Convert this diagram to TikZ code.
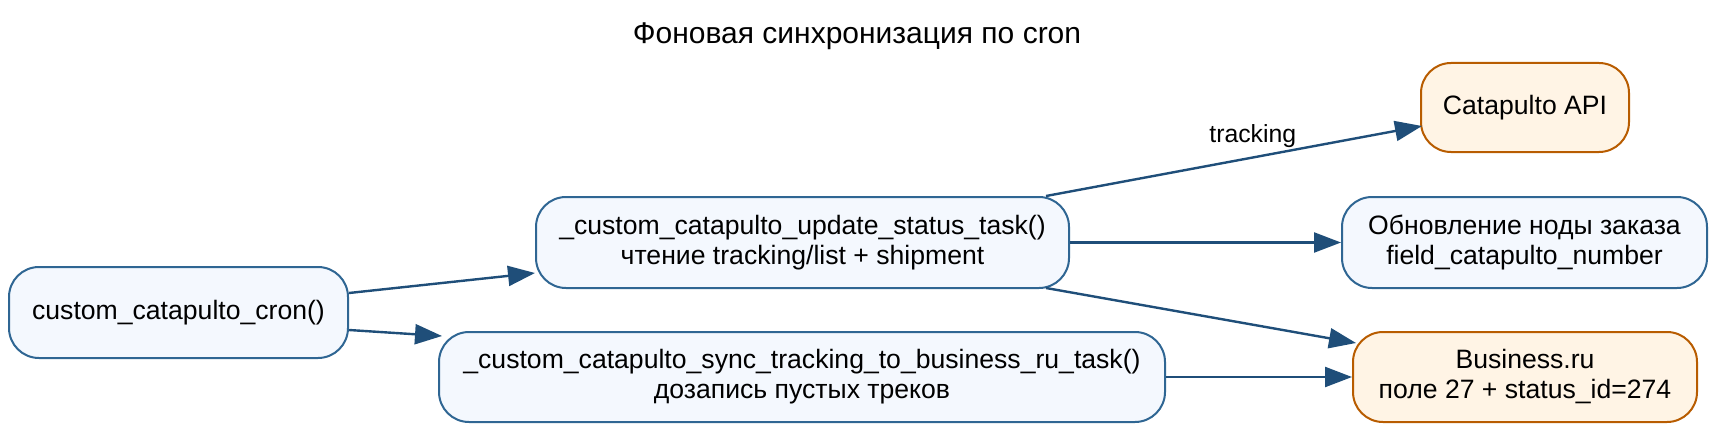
\documentclass[tikz,border=0pt]{standalone}
\usepackage{fontspec}
\setmainfont{Liberation Sans}
\usetikzlibrary{arrows.meta,calc}
\definecolor{bluefill}{HTML}{F4F8FE}
\definecolor{blueline}{HTML}{2F6693}
\definecolor{orangefill}{HTML}{FFF4E5}
\definecolor{orangeline}{HTML}{B85C00}
\definecolor{edgecol}{HTML}{1F4E79}
\tikzset{
  box/.style={draw, line width=1pt, rounded corners=15pt, inner sep=0pt,
    align=center, font=\fontsize{13.3}{15}\selectfont},
  bluebox/.style={box, draw=blueline, fill=bluefill},
  orangebox/.style={box, draw=orangeline, fill=orangefill},
  conn/.style={draw=edgecol, line width=1.2pt,
    -{Triangle[length=13.5pt,width=10pt]}},
  elabel/.style={font=\fontsize{12.4}{14}\selectfont},
}
\begin{document}
\begin{tikzpicture}[x=0.5pt,y=-0.5pt]
\useasboundingbox (0,0) rectangle (1718,433);
\node[font=\fontsize{15}{17}\selectfont, anchor=base] (title) at (857,44) {Фоновая синхронизация по cron};

\node[bluebox, minimum width=169.5pt, minimum height=45.5pt] (cron) at (178.5,312.5) {custom\_catapulto\_cron()};
\node[bluebox, minimum width=266.5pt, minimum height=45.5pt] (update) at (802.5,242.5) {\_custom\_catapulto\_update\_status\_task()\\чтение tracking/list + shipment};
\node[bluebox, minimum width=363pt, minimum height=45pt] (sync) at (802,377) {\_custom\_catapulto\_sync\_tracking\_to\_business\_ru\_task()\\дозапись пустых треков};
\node[orangebox, minimum width=104pt, minimum height=44.5pt] (cat) at (1525,107.5) {Catapulto API};
\node[bluebox, minimum width=182.5pt, minimum height=45.5pt] (obn) at (1524.5,242.5) {Обновление ноды заказа\\field\_catapulto\_number};
\node[orangebox, minimum width=172pt, minimum height=45pt] (bus) at (1525,377) {Business.ru\\поле 27 + status\_id=274};

\draw[conn] ($(cron.east)+(0,-19.5)$) -- ($(update.west)+(0,30.5)$);
\draw[conn] ($(cron.east)+(0,17.5)$) -- ($(sync.north west)+(4,5)$);
\draw[conn] ($(update.north east)+(-24,0)$) -- node[elabel, pos=0.55, above=1pt] (lbl) {tracking} ($(cat.west)+(2,18.5)$);
\draw[conn] (update.east) -- (obn.west);
\draw[conn] ($(update.south east)+(-24,-1)$) -- ($(bus.north west)+(4,12)$);
\draw[conn] (sync.east) -- (bus.west);
\end{tikzpicture}
\end{document}
